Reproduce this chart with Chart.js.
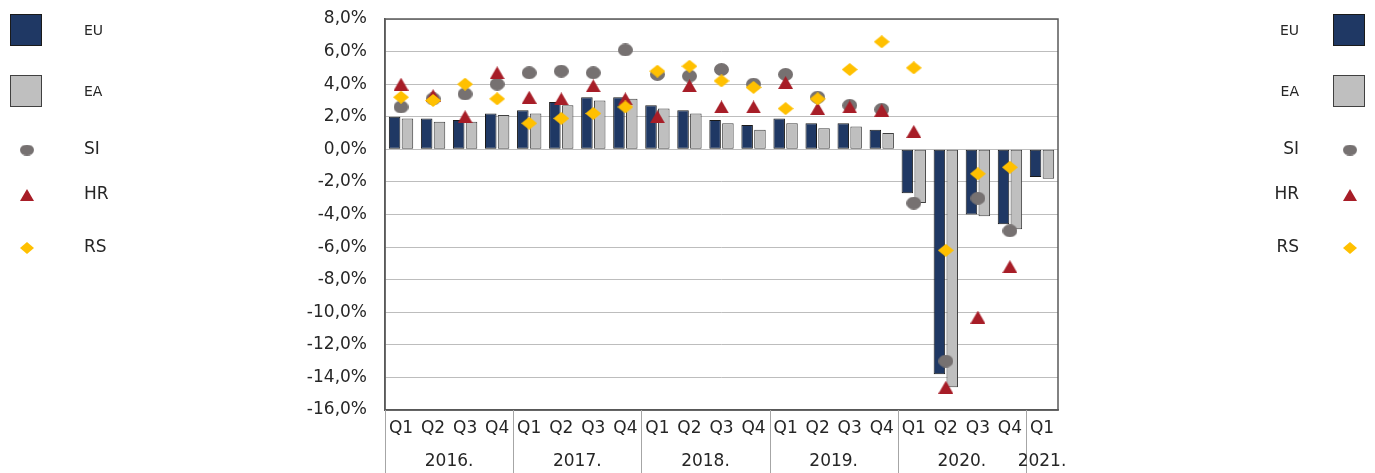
<!DOCTYPE html>
<html>
<head>
<meta charset="utf-8">
<script src="https://cdn.jsdelivr.net/npm/chart.js@4.4.1/dist/chart.umd.min.js"></script>
<style>
html,body{margin:0;padding:0;background:#fff;}
#wrap{width:1375px;height:473px;position:relative;}
</style>
</head>
<body>
<div id="wrap"><canvas id="c" width="1375" height="473"></canvas></div>
<script>
// ---- data ----
const quarters = ['Q1','Q2','Q3','Q4','Q1','Q2','Q3','Q4','Q1','Q2','Q3','Q4','Q1','Q2','Q3','Q4','Q1','Q2','Q3','Q4','Q1'];
const years = ['2016.','2017.','2018.','2019.','2020.','2021.'];
const yearSpans = [4,4,4,4,4,1];
const EU = [2.0,1.9,1.8,2.2, 2.4,2.9,3.2,3.2, 2.7,2.4,1.8,1.5, 1.9,1.6,1.6,1.2, -2.7,-13.8,-4.0,-4.6, -1.7];
const EA = [1.9,1.7,1.7,2.1, 2.2,2.7,3.0,3.1, 2.5,2.2,1.6,1.2, 1.6,1.3,1.4,1.0, -3.3,-14.6,-4.1,-4.9, -1.8];
const SI = [2.6,3.1,3.4,4.0, 4.7,4.8,4.7,6.1, 4.6,4.5,4.9,4.0, 4.6,3.2,2.7,2.45, -3.3,-13.0,-3.0,-5.0, null];
const HR = [4.0,3.3,2.0,4.7, 3.2,3.1,3.9,3.1, 2.0,3.9,2.6,2.6, 4.1,2.5,2.6,2.4, 1.1,-14.6,-10.3,-7.2, null];
const RS = [3.2,3.0,4.0,3.1, 1.6,1.9,2.2,2.6, 4.8,5.1,4.2,3.8, 2.5,3.1,4.9,6.6, 5.0,-6.2,-1.5,-1.1, null];
const yTicks = [-16,-14,-12,-10,-8,-6,-4,-2,0,2,4,6,8];

// ---- styles ----
const FONT = '"DejaVu Sans"';
const C_EU = '#1f3864', C_EU_B = '#1a1a1a';
const C_EA = '#bfbfbf', C_EA_B = '#404040';
const C_SI = '#767171', C_HR = '#a71d27', C_RS = '#ffc000';
const TXT = '#262626';

function mk(w,h,draw){
  const c=document.createElement('canvas');c.width=w;c.height=h;
  const g=c.getContext('2d');draw(g,w,h);return c;
}
function ellipse(w,h,col){return mk(w,h,(g)=>{g.fillStyle=col;g.beginPath();g.ellipse(w/2,h/2,w/2,h/2,0,0,Math.PI*2);g.fill();});}
function tri(w,h,col){return mk(w,h,(g)=>{g.fillStyle=col;g.beginPath();g.moveTo(w/2,0);g.lineTo(w,h);g.lineTo(0,h);g.closePath();g.fill();});}
function dia(w,h,col){return mk(w,h,(g)=>{g.fillStyle=col;g.beginPath();g.moveTo(w/2,0);g.lineTo(w,h/2);g.lineTo(w/2,h);g.lineTo(0,h/2);g.closePath();g.fill();});}

const pSI = ellipse(15,13,C_SI), pHR = tri(15,13,C_HR), pRS = dia(16,13,C_RS);
const lSI = ellipse(14,11,C_SI), lHR = tri(14,12,C_HR), lRS = dia(14,12,C_RS);

const extras = {
  id:'extras',
  afterDraw(chart){
    const ctx=chart.ctx, a=chart.chartArea, x=chart.scales.x;
    ctx.save();
    // plot frame
    ctx.strokeStyle='#595959';ctx.lineWidth=1.5;
    ctx.strokeRect(a.left,a.top,a.right-a.left,a.bottom-a.top);
    // year separators and labels
    ctx.strokeStyle='#a6a6a6';ctx.lineWidth=1;
    ctx.font='17px '+FONT;ctx.fillStyle=TXT;ctx.textAlign='center';ctx.textBaseline='middle';
    let idx=0;
    const half=(x.getPixelForValue(1)-x.getPixelForValue(0))/2;
    const sep=(px)=>{ctx.beginPath();ctx.moveTo(Math.round(px)+0.5,a.bottom);ctx.lineTo(Math.round(px)+0.5,473);ctx.stroke();};
    sep(x.getPixelForValue(0)-half);
    years.forEach((y,i)=>{
      const s=idx, e=idx+yearSpans[i]-1;
      const l=x.getPixelForValue(s)-half, r=x.getPixelForValue(e)+half;
      if(i<years.length-1) sep(r);
      ctx.fillText(y,(l+r)/2,462);
      idx+=yearSpans[i];
    });
    // legends
    const drawLegend=(side)=>{
      const boxX = side==='L'?10:1333, markX = side==='L'?27:1350;
      const txtX = side==='L'?84:1299;
      ctx.textAlign = side==='L'?'left':'right';ctx.textBaseline='middle';
      ctx.lineWidth=1;
      ctx.fillStyle=C_EU;ctx.fillRect(boxX,14,32,32);ctx.strokeStyle=C_EU_B;ctx.strokeRect(boxX+0.5,14.5,31,31);
      ctx.fillStyle=C_EA;ctx.fillRect(boxX,75,32,32);ctx.strokeStyle=C_EA_B;ctx.strokeRect(boxX+0.5,75.5,31,31);
      ctx.drawImage(lSI,markX-7,150-5.5);
      ctx.drawImage(lHR,markX-7,195-6);
      ctx.drawImage(lRS,markX-7,248-6);
      ctx.fillStyle=TXT;
      ctx.font='14px '+FONT;
      ctx.fillText('EU',txtX,31);
      ctx.fillText('EA',txtX,92);
      ctx.font='17px '+FONT;
      ctx.fillText('SI',txtX,150);
      ctx.fillText('HR',txtX,195);
      ctx.fillText('RS',txtX,248);
    };
    drawLegend('L');drawLegend('R');
    ctx.restore();
  }
};

new Chart(document.getElementById('c'),{
  type:'bar',
  data:{
    labels:quarters,
    datasets:[
      {type:'line',label:'RS',data:RS,showLine:false,pointStyle:pRS,pointRadius:8,pointHoverRadius:8,backgroundColor:C_RS,borderColor:C_RS,order:0},
      {type:'line',label:'HR',data:HR,showLine:false,pointStyle:pHR,pointRadius:8,pointHoverRadius:8,backgroundColor:C_HR,borderColor:C_HR,order:1},
      {type:'line',label:'SI',data:SI,showLine:false,pointStyle:pSI,pointRadius:8,pointHoverRadius:8,backgroundColor:C_SI,borderColor:C_SI,order:2},
      {label:'EU',data:EU,backgroundColor:C_EU,borderColor:C_EU_B,borderWidth:1,borderSkipped:false,order:3,categoryPercentage:0.8,barPercentage:0.9},
      {label:'EA',data:EA,backgroundColor:C_EA,borderColor:C_EA_B,borderWidth:1,borderSkipped:false,order:4,categoryPercentage:0.8,barPercentage:0.9}
    ]
  },
  options:{
    responsive:false,animation:false,
    layout:{padding:{top:19,right:317,left:0,bottom:0}},
    plugins:{legend:{display:false},tooltip:{enabled:false}},
    scales:{
      x:{
        offset:true,
        grid:{display:false,drawTicks:false},
        border:{color:'#595959',width:1.5},
        ticks:{color:TXT,font:{family:FONT,size:17},padding:8,maxRotation:0,autoSkip:false},
        afterFit(s){s.height=63;s.paddingLeft=0;s.paddingRight=0;}
      },
      y:{
        min:-16,max:8,
        grid:{color:'#bdbdbd',lineWidth:1,drawTicks:false},
        border:{color:'#595959',width:1.5},
        afterBuildTicks(s){s.ticks=yTicks.map(v=>({value:v}));},
        ticks:{color:TXT,font:{family:FONT,size:17},padding:18,
          callback:(v)=>v.toFixed(1).replace('.',',')+'%'},
        afterFit(s){s.width=385;s.paddingTop=0;s.paddingBottom=0;}
      }
    }
  },
  plugins:[extras]
});
</script>
</body>
</html>
